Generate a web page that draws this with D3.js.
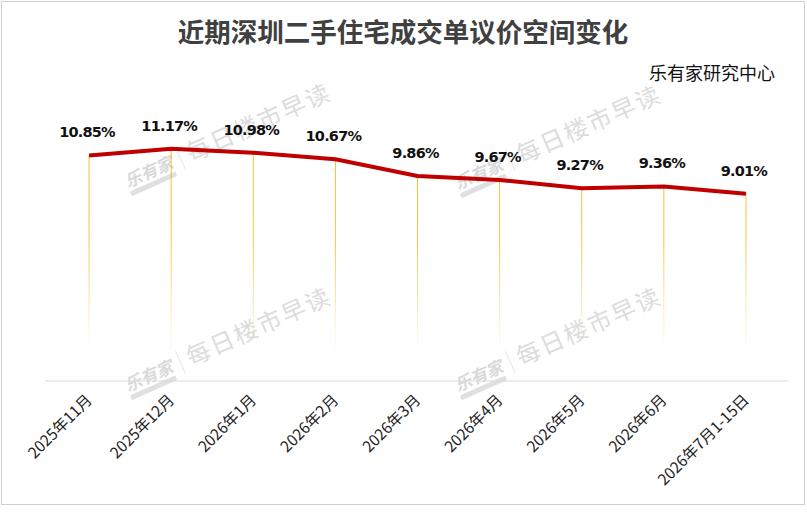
<!DOCTYPE html>
<html>
<head>
<meta charset="utf-8">
<script src="https://cdn.jsdelivr.net/npm/d3@7"></script>
<style>
  html, body { margin: 0; padding: 0; background: #fff; }
  svg { display: block; }
</style>
</head>
<body>
<div id="chart"></div>
<script>
const months = ["2025年11月", "2025年12月", "2026年1月", "2026年2月", "2026年3月",
  "2026年4月", "2026年5月", "2026年6月", "2026年7月1-15日"];
const bargainRate = [10.85, 11.17, 10.98, 10.67, 9.86, 9.67, 9.27, 9.36, 9.01];

const title = "近期深圳二手住宅成交单议价空间变化";
const source = "乐有家研究中心";
const watermarkBrand = "乐有家";
const watermarkText = "每日楼市早读";

const conf = {
  width: 807,
  height: 515,
  plot: { left: 48, right: 787, top: 90, bottom: 381 },
  lineColor: "#c00000",
  dropColor: "#f0bc2c",
  cjk: "'Noto Sans CJK SC', 'Noto Sans', sans-serif",
};

const svg = d3.select("#chart").append("svg")
  .attr("width", conf.width)
  .attr("height", conf.height);

// outer frame
svg.append("rect")
  .attr("x", 1.5).attr("y", 1.5)
  .attr("width", 803).attr("height", 503)
  .attr("fill", "#fff")
  .attr("stroke", "#d0d0d0");

const x = d3.scaleBand()
  .domain(months)
  .range([conf.plot.left, conf.plot.right]);

const y = d3.scaleLinear()
  .domain([0, 14])
  .range([conf.plot.bottom, conf.plot.top]);

const cx = d => x(d) + x.bandwidth() / 2;

// watermarks (drawn behind the data)
const marks = [[128, 188], [458, 190], [128, 392], [458, 392]];
const wm = svg.append("g").attr("class", "watermarks");
marks.forEach(([mx, my]) => {
  const g = wm.append("g").attr("transform", `translate(${mx},${my}) rotate(-24)`);
  g.append("text")
    .attr("x", 0).attr("y", 0)
    .attr("font-family", conf.cjk)
    .attr("font-size", 17)
    .attr("font-weight", "bold")
    .attr("fill", "#d9d9d9")
    .attr("font-style", "italic")
    .text(watermarkBrand);
  g.append("rect")
    .attr("x", 0).attr("y", 4).attr("width", 50).attr("height", 5)
    .attr("rx", 2).attr("fill", "#e0e0e0");
  g.append("line")
    .attr("x1", 60).attr("x2", 60).attr("y1", -18).attr("y2", 6)
    .attr("stroke", "#e6e6e6");
  g.append("text")
    .attr("x", 68).attr("y", 2)
    .attr("font-family", conf.cjk)
    .attr("font-size", 24)
    .attr("fill", "#dcdcdc")
    .attr("letter-spacing", 2)
    .text(watermarkText);
});

// title + source
svg.append("text")
  .attr("x", 403).attr("y", 42)
  .attr("text-anchor", "middle")
  .attr("font-family", conf.cjk)
  .attr("font-size", 26.5)
  .attr("font-weight", "bold")
  .attr("fill", "#404040")
  .text(title);

svg.append("text")
  .attr("x", 775).attr("y", 80)
  .attr("text-anchor", "end")
  .attr("font-family", conf.cjk)
  .attr("font-size", 18)
  .attr("fill", "#111")
  .text(source);

// gradient for drop lines
const grad = svg.append("defs").append("linearGradient")
  .attr("id", "dropFade")
  .attr("gradientUnits", "userSpaceOnUse")
  .attr("x1", 0).attr("x2", 0)
  .attr("y1", y(11.2)).attr("y2", conf.plot.bottom);
grad.append("stop").attr("offset", "0%").attr("stop-color", conf.dropColor).attr("stop-opacity", 1);
grad.append("stop").attr("offset", "40%").attr("stop-color", conf.dropColor).attr("stop-opacity", 0.85);
grad.append("stop").attr("offset", "70%").attr("stop-color", conf.dropColor).attr("stop-opacity", 0.3);
grad.append("stop").attr("offset", "88%").attr("stop-color", conf.dropColor).attr("stop-opacity", 0);

svg.append("g")
  .selectAll("line")
  .data(months)
  .join("line")
  .attr("x1", d => cx(d)).attr("x2", d => cx(d))
  .attr("y1", (d, i) => y(bargainRate[i]))
  .attr("y2", conf.plot.bottom)
  .attr("stroke", "url(#dropFade)")
  .attr("stroke-width", 1);

// x axis
const xAxis = svg.append("g")
  .attr("transform", `translate(0,${conf.plot.bottom})`)
  .call(d3.axisBottom(x).tickSize(0).tickPadding(0));
xAxis.select(".domain")
  .attr("stroke", "#d9d9d9")
  .attr("stroke-width", 1.2)
  .attr("d", `M${conf.plot.left - 3},0H${conf.plot.right + 1}`);
xAxis.selectAll(".tick text")
  .attr("font-family", conf.cjk)
  .attr("font-size", 15.5)
  .attr("fill", "#222")
  .attr("text-anchor", "end")
  .attr("dy", 0)
  .attr("transform", "translate(4,20) rotate(-45)");

// line
const line = d3.line()
  .x((d, i) => cx(months[i]))
  .y(d => y(d));

svg.append("path")
  .datum(bargainRate)
  .attr("d", line)
  .attr("fill", "none")
  .attr("stroke", conf.lineColor)
  .attr("stroke-width", 4)
  .attr("stroke-linejoin", "round");

// value labels
svg.append("g")
  .selectAll("text")
  .data(bargainRate)
  .join("text")
  .attr("x", (d, i) => cx(months[i]) - 2)
  .attr("y", d => y(d) - 18)
  .attr("text-anchor", "middle")
  .attr("font-family", "'DejaVu Sans', sans-serif")
  .attr("font-size", 14.5)
  .attr("font-weight", "bold")
  .attr("letter-spacing", -0.8)
  .attr("fill", "#111")
  .text(d => d.toFixed(2) + "%");
</script>
</body>
</html>
